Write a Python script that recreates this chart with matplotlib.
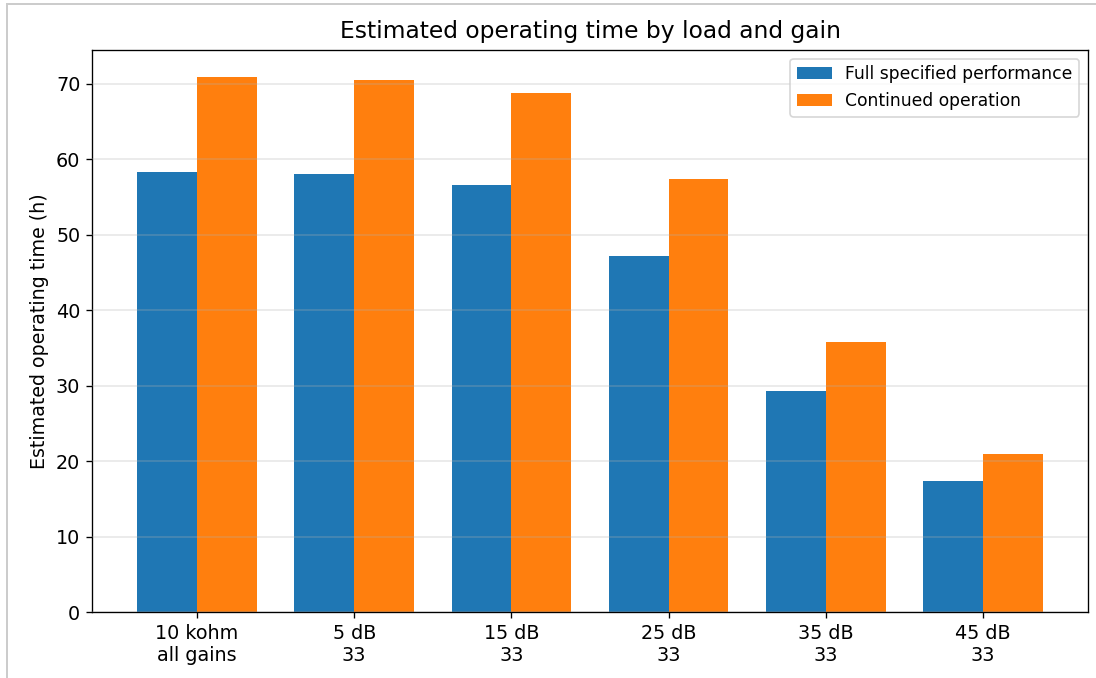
import matplotlib
matplotlib.use("Agg")
import matplotlib.pyplot as plt
import numpy as np
from matplotlib.lines import Line2D

categories = ["10 kohm\nall gains", "5 dB\n33", "15 dB\n33", "25 dB\n33", "35 dB\n33", "45 dB\n33"]
full_perf = [58.3, 58.0, 56.5, 47.2, 29.3, 17.3]
continued = [70.9, 70.5, 68.7, 57.4, 35.7, 20.9]
series_labels = ["Full specified performance", "Continued operation"]

fig = plt.figure(figsize=(1096 / 120, 678 / 120), dpi=120)
ax = fig.add_axes([92 / 1096, 1 - 612 / 678, (1088 - 92) / 1096, (612 - 50) / 678])

x = np.arange(len(categories))
w = 0.38
ax.bar(x - w / 2, full_perf, w, label=series_labels[0], color="#1f77b4",
       linewidth=0, zorder=1)
ax.bar(x + w / 2, continued, w, label=series_labels[1], color="#ff7f0e",
       linewidth=0, zorder=1)

ax.set_xticks(x)
ax.set_xticklabels(categories, fontsize=11.5)
ax.tick_params(axis="y", labelsize=11.5)
ax.set_ylabel("Estimated operating time (h)", fontsize=11.4)
ax.set_title("Estimated operating time by load and gain", fontsize=14, pad=7)
ax.yaxis.grid(True, color="#b0b0b0", linewidth=1.0, alpha=0.3, zorder=2)
ax.set_axisbelow(False)
leg = ax.legend(loc="upper right", fontsize=10.3)
leg.set_zorder(5)

fig.add_artist(Line2D([7 / 1096, 7 / 1096], [0, 1 - 4 / 678], color="#cccccc", lw=1.2, transform=fig.transFigure))
fig.add_artist(Line2D([7 / 1096, 1], [1 - 4 / 678, 1 - 4 / 678], color="#cccccc", lw=1.2, transform=fig.transFigure))

fig.savefig("out.png", dpi=120)
